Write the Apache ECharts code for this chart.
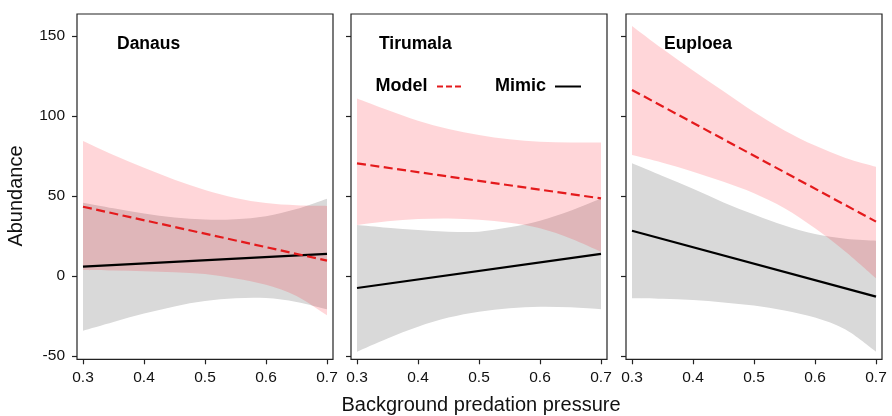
<!DOCTYPE html>
<html>
<head>
<meta charset="utf-8">
<script src="https://cdn.jsdelivr.net/npm/echarts@6/dist/echarts.min.js"></script>
<style>
  html, body { margin: 0; padding: 0; background: #fff; }
  #chart { width: 892px; height: 416px; }
</style>
</head>
<body>
<div id="chart"></div>
<script>
// x positions where the confidence bands were read
const bandX = [0.3, 0.35, 0.4, 0.45, 0.5, 0.55, 0.6, 0.65, 0.7]
const lineX = [0.3, 0.7]

const panelNames = ['Danaus', 'Tirumala', 'Euploea']
const xTicks = [0.3, 0.4, 0.5, 0.6, 0.7]
const yTicks = [-50, 0, 50, 100, 150]

// Danaus
const danausModel = [43.3, 9.6]
const danausMimic = [5.8, 13.8]
const danausModelUpper = [84.3, 75.6, 67.6, 60.2, 53.8, 48.8, 45.6, 44.2, 43.8]
const danausModelLower = [3.8, 3.5, 3.0, 2.4, 1.2, -1.5, -5.5, -12.5, -24.6]
const danausMimicUpper = [45.8, 42.3, 39.1, 36.6, 35.3, 35.5, 37.4, 41.8, 48.3]
const danausMimicLower = [-34.2, -28.7, -23.5, -19.0, -15.7, -13.9, -13.8, -16.2, -20.8]

// Tirumala
const tirumalaModel = [70.4, 48.5]
const tirumalaMimic = [-7.5, 13.8]
const tirumalaModelUpper = [111, 103.8, 97.1, 91.9, 88.1, 85.4, 83.9, 83.5, 83.5]
const tirumalaModelLower = [31.9, 34.2, 35.6, 36.0, 35.2, 33.3, 29.8, 23.5, 15.2]
const tirumalaMimicUpper = [31.9, 30.2, 28.8, 27.7, 27.7, 30.4, 34.6, 40.8, 48.5]
const tirumalaMimicLower = [-47.3, -39.0, -31.7, -26.0, -22.3, -20.2, -19.2, -19.6, -20.8]

// Euploea
const euploeaModel = [116.3, 34]
const euploeaMimic = [28.3, -12.9]
const euploeaModelUpper = [156.3, 142, 128.5, 115.5, 102.5, 91, 81.5, 73.8, 68.3]
const euploeaModelLower = [75.6, 70.8, 65.2, 58.9, 51.7, 42.3, 29.8, 15.2, -1.4]
const euploeaMimicUpper = [70.4, 62.5, 54.5, 46, 38.5, 31.5, 26.2, 23.3, 22.1]
const euploeaMimicLower = [-13.9, -14.2, -15, -16.5, -18.5, -21.5, -26, -33.5, -47.3]

const panels = [
    { model: danausModel, mimic: danausMimic, mu: danausModelUpper, ml: danausModelLower, gu: danausMimicUpper, gl: danausMimicLower },
    { model: tirumalaModel, mimic: tirumalaMimic, mu: tirumalaModelUpper, ml: tirumalaModelLower, gu: tirumalaMimicUpper, gl: tirumalaMimicLower },
    { model: euploeaModel, mimic: euploeaMimic, mu: euploeaModelUpper, ml: euploeaModelLower, gu: euploeaMimicUpper, gl: euploeaMimicLower }
]

const FONT = '"Liberation Sans", Arial, Helvetica, sans-serif'
const panelLeft = [77, 351, 626]
const titleLeft = [117, 379, 664]
const modelColor = '#e41a1c'
const mimicColor = '#000'

// smooth path through pixel points (catmull-rom as cubic bezier)
function curveThrough(pts) {
    let d = ''
    for (let i = 0; i < pts.length - 1; i++) {
        const p0 = pts[Math.max(i - 1, 0)], p1 = pts[i], p2 = pts[i + 1], p3 = pts[Math.min(i + 2, pts.length - 1)]
        const c1 = [p1[0] + (p2[0] - p0[0]) / 6, p1[1] + (p2[1] - p0[1]) / 6]
        const c2 = [p2[0] - (p3[0] - p1[0]) / 6, p2[1] - (p3[1] - p1[1]) / 6]
        d += ' C' + c1.join(' ') + ' ' + c2.join(' ') + ' ' + p2.join(' ')
    }
    return d
}

function bandSeries(i, upper, lower, color) {
    return {
        type: 'custom',
        coordinateSystem: 'cartesian2d',
        xAxisIndex: 2 * i, yAxisIndex: 2 * i,
        silent: true,
        data: [[0.5, 0]],
        renderItem: (params, api) => {
            const top = bandX.map((x, k) => api.coord([x, upper[k]]))
            const bot = bandX.map((x, k) => api.coord([x, lower[k]])).reverse()
            const d = 'M' + top[0].join(' ') + curveThrough(top) + ' L' + bot[0].join(' ') + curveThrough(bot) + ' Z'
            return { type: 'path', shape: { pathData: d }, style: { fill: color, stroke: null } }
        }
    }
}

const grid = []
const xAxis = []
const yAxis = []
const series = []

panelLeft.forEach((left, i) => {
    // box grid, data drawn here
    grid.push({ left: left, top: 14, width: 256, height: 345.3, show: true, borderColor: '#222', borderWidth: 1.2, backgroundColor: 'transparent' })
    // tick grid, covers 0.3..0.7 and -50..150 exactly
    grid.push({ left: left + 6, top: 36, width: 244, height: 320, show: false })

    xAxis.push({ type: 'value', gridIndex: 2 * i, min: 0.3 - 6 / 610, max: 0.3 + 250 / 610, show: false })
    yAxis.push({ type: 'value', gridIndex: 2 * i, min: -50 - 3.3 / 1.6, max: 150 + 22 / 1.6, show: false })

    xAxis.push({
        type: 'value', gridIndex: 2 * i + 1, position: 'bottom',
        min: xTicks[0], max: xTicks[xTicks.length - 1], interval: 0.1,
        offset: 3.3,
        axisLine: { show: false, onZero: false },
        axisTick: { show: true, length: 5, lineStyle: { color: '#222', width: 1.2 } },
        splitLine: { show: false },
        axisLabel: { fontSize: 15.5, color: '#111', fontFamily: FONT, margin: 10, formatter: v => v.toFixed(1) }
    })
    yAxis.push({
        type: 'value', gridIndex: 2 * i + 1, position: 'left',
        min: yTicks[0], max: yTicks[yTicks.length - 1], interval: 50,
        offset: 6,
        axisLine: { show: false, onZero: false },
        axisTick: { show: true, length: 5, lineStyle: { color: '#222', width: 1.2 } },
        splitLine: { show: false },
        axisLabel: { show: i === 0, fontSize: 15.5, color: '#111', fontFamily: FONT, margin: 12 }
    })

    const p = panels[i]
    const axisIdx = { xAxisIndex: 2 * i, yAxisIndex: 2 * i }

    series.push(bandSeries(i, p.gu, p.gl, '#d9d9d9'))
    series.push(bandSeries(i, p.mu, p.ml, 'rgba(255, 0, 16, 0.16)'))

    series.push({ type: 'line', name: 'Mimic', symbol: 'none', silent: true, ...axisIdx,
        lineStyle: { color: mimicColor, width: 2.2 },
        data: lineX.map((x, k) => [x, p.mimic[k]]) })
    series.push({ type: 'line', name: 'Model', symbol: 'none', silent: true, ...axisIdx,
        lineStyle: { color: modelColor, width: 2.2, type: [9, 4.5] },
        data: lineX.map((x, k) => [x, p.model[k]]) })
})

const textStyle = (extra) => ({ fontFamily: FONT, fill: '#111', align: 'center', verticalAlign: 'middle', ...extra })

const chart = echarts.init(document.getElementById('chart'))

chart.setOption({
    animation: false,
    backgroundColor: '#fff',
    grid: grid,
    xAxis: xAxis,
    yAxis: yAxis,
    title: panelNames.map((name, i) => ({
        text: name, left: titleLeft[i], top: 35, padding: 0,
        textStyle: { fontSize: 17.5, fontWeight: 'bold', color: '#000', fontFamily: FONT }
    })),
    graphic: [
        { type: 'text', x: 16, y: 196, rotation: Math.PI / 2,
          style: textStyle({ text: 'Abundance', fontSize: 20 }) },
        { type: 'text', x: 481, y: 405,
          style: textStyle({ text: 'Background predation pressure', fontSize: 20 }) },
        // legend key drawn in the middle panel
        { type: 'text', x: 375.5, y: 86,
          style: textStyle({ text: 'Model', fontSize: 18, fontWeight: 'bold', fill: '#000', align: 'left' }) },
        { type: 'line', shape: { x1: 437, y1: 86.5, x2: 462, y2: 86.5 },
          style: { stroke: modelColor, lineWidth: 2, lineDash: [6, 3] } },
        { type: 'text', x: 495, y: 86,
          style: textStyle({ text: 'Mimic', fontSize: 18, fontWeight: 'bold', fill: '#000', align: 'left' }) },
        { type: 'line', shape: { x1: 555, y1: 86.5, x2: 581, y2: 86.5 },
          style: { stroke: mimicColor, lineWidth: 2 } }
    ],
    series: series
})
</script>
</body>
</html>
